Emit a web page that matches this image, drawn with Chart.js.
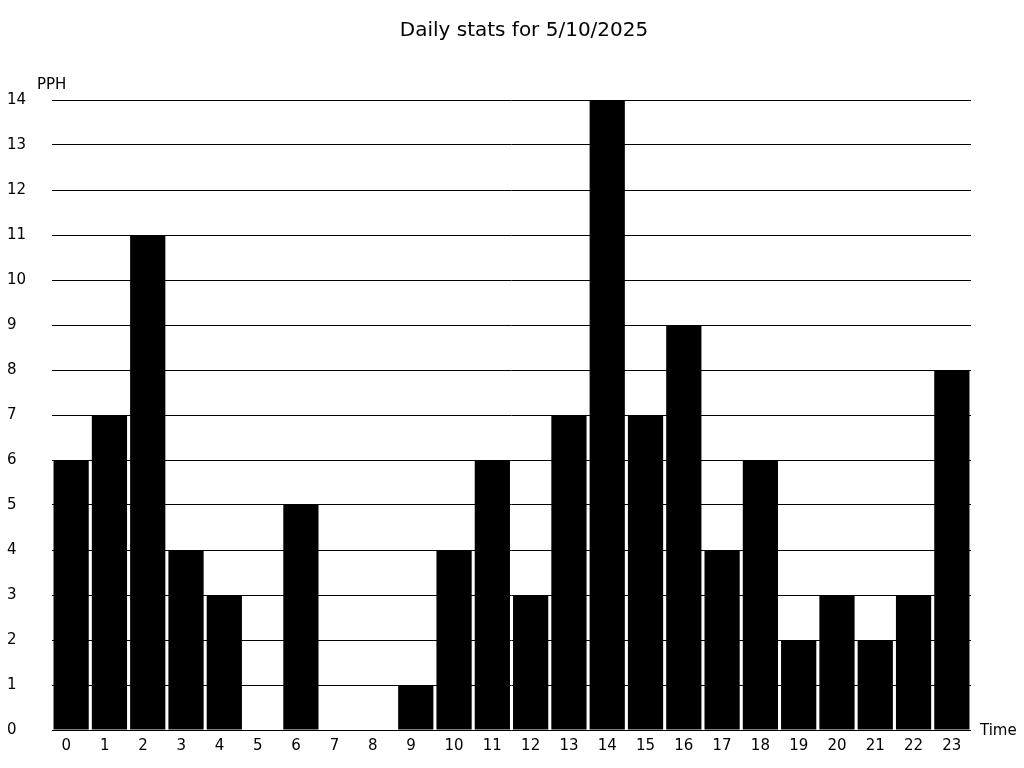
<!DOCTYPE html>
<html>
<head>
<meta charset="utf-8">
<script src="https://cdn.jsdelivr.net/npm/chart.js@4"></script>
<style>
  html, body { margin: 0; padding: 0; background: #fff; }
  #wrap { width: 1024px; height: 768px; }
</style>
</head>
<body>
<div id="wrap"><canvas id="chart" width="1024" height="768"></canvas></div>
<script>
// hourly values
const HOURS = ['0','1','2','3','4','5','6','7','8','9','10','11','12','13','14','15','16','17','18','19','20','21','22','23'];
const PPH   = [6, 7, 11, 4, 3, 0, 5, 0, 0, 1, 4, 6, 3, 7, 14, 7, 9, 4, 6, 2, 3, 2, 3, 8];
const Y_MAX = 14;
const TITLE = 'Daily stats for 5/10/2025';

const FONT = "'DejaVu Sans', sans-serif";
Chart.defaults.font.family = FONT;
Chart.defaults.color = '#000';

// title plus axis captions: "PPH" above the y ticks, "Time" right of the x axis
const captions = {
  id: 'captions',
  afterDraw(chart) {
    const { ctx, chartArea } = chart;
    ctx.save();
    ctx.fillStyle = '#000';
    ctx.textBaseline = 'middle';
    ctx.font = '20px ' + FONT;
    ctx.textAlign = 'center';
    ctx.fillText(TITLE, 524, 31);
    ctx.font = '15px ' + FONT;
    ctx.textAlign = 'left';
    ctx.fillText('PPH', 37, chartArea.top - 15);
    ctx.fillText('Time', chartArea.right + 9, chartArea.bottom + 1);
    ctx.restore();
  }
};

new Chart(document.getElementById('chart').getContext('2d'), {
  type: 'bar',
  data: {
    labels: HOURS,
    datasets: [{
      label: 'PPH', data: PPH,
      backgroundColor: '#000', borderWidth: 0,
      categoryPercentage: 1.0, barPercentage: 0.92,
    }]
  },
  options: {
    responsive: false, animation: false,
    layout: { padding: { left: 7, right: 53, top: 100, bottom: 0 } },
    scales: {
      x: {
        grid: { display: false, drawTicks: false },
        border: { display: false },
        ticks: {
          autoSkip: false, maxRotation: 0, padding: 7, font: { size: 15 },
          // single digits sit a little left of the bar centre in the original
          callback: (v, i) => HOURS[i].length < 2 ? HOURS[i] + '\u2007' : HOURS[i]
        },
        afterFit: s => { s.height = 38; }
      },
      y: {
        min: 0, max: Y_MAX,
        grid: { color: '#000', lineWidth: 1, drawTicks: false },
        border: { display: false },
        ticks: { stepSize: 1, crossAlign: 'far', padding: 0, font: { size: 15 } },
        afterFit: s => { s.width = 45; }
      }
    },
    plugins: {
      legend: { display: false },
      tooltip: { enabled: false },
      title: { display: false }
    }
  },
  plugins: [captions]
});
</script>
</body>
</html>
